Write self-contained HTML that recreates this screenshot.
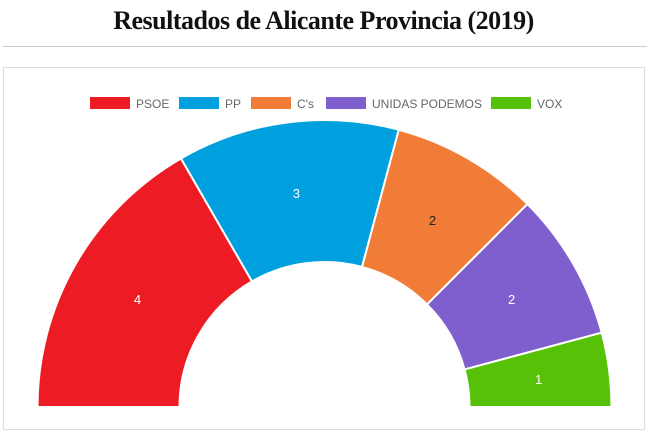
<!DOCTYPE html>
<html><head><meta charset="utf-8"><style>
body{margin:0;width:647px;height:430px;background:#fff;overflow:hidden;font-family:"Liberation Sans",Arial,sans-serif;position:relative}
#title{position:absolute;left:0;width:647px;top:6px;text-align:center;font-family:"Liberation Serif",serif;font-weight:bold;font-size:26px;color:#111;letter-spacing:-0.5px}
#rule{position:absolute;left:3px;right:0;top:46px;height:1px;background:#ccc}
#box{position:absolute;left:3px;top:67px;width:640px;height:361px;border:1px solid #ddd}
svg{position:absolute;left:0;top:0}
</style></head><body>
<div id="title">Resultados de Alicante Provincia (2019)</div>
<div id="rule"></div>
<div id="box"></div>
<svg id="chart" width="647" height="430"></svg>
<script>
const parties = ["PSOE","PP","C's","UNIDAS PODEMOS","VOX"];
const seats = [4,3,2,2,1];
const colors = ["#ed1c24","#00a0df","#f07c38","#7f5fce","#56c106"];
const legendX = [90,179,251,326,491];
const svg = document.getElementById('chart');
const NS = "http://www.w3.org/2000/svg";
const cx = 324.5, cy = 407, R = 287, r = 145;
const total = seats.reduce((a,b)=>a+b,0);
function angle(v){ return Math.PI - v/total*Math.PI; }
function pt(rad,a){ return [cx+rad*Math.cos(a), cy-rad*Math.sin(a)]; }
let cum = 0;
seats.forEach((s,i)=>{
  const a0 = angle(cum), a1 = angle(cum+s);
  const [x0,y0]=pt(R,a0),[x1,y1]=pt(R,a1),[x2,y2]=pt(r,a1),[x3,y3]=pt(r,a0);
  const p = document.createElementNS(NS,'path');
  p.setAttribute('d',`M${x0},${y0} A${R},${R} 0 0 1 ${x1},${y1} L${x2},${y2} A${r},${r} 0 0 0 ${x3},${y3} Z`);
  p.setAttribute('fill',colors[i]);
  p.setAttribute('stroke','#fff');
  p.setAttribute('stroke-width','2');
  
  
  svg.appendChild(p);
  const am = angle(cum + s/2);
  const [lx,ly] = pt((R+r)/2, am);
  const t = document.createElementNS(NS,'text');
  t.setAttribute('x',lx); t.setAttribute('y',ly+5);
  t.setAttribute('text-anchor','middle');
  t.setAttribute('font-size','13');
  t.setAttribute('fill', i===2 ? '#222' : '#fff');
  t.textContent = s;
  
  
  svg.appendChild(t);
  // legend
  const g = document.createElementNS(NS,'g');
  
  
  const rc = document.createElementNS(NS,'rect');
  rc.setAttribute('x',legendX[i]); rc.setAttribute('y',97);
  rc.setAttribute('width',40); rc.setAttribute('height',12);
  rc.setAttribute('fill',colors[i]);
  g.appendChild(rc);
  const lt = document.createElementNS(NS,'text');
  lt.setAttribute('x',legendX[i]+46); lt.setAttribute('y',108);
  lt.setAttribute('font-size','12'); lt.setAttribute('fill','#666');
  lt.textContent = parties[i];
  g.appendChild(lt);
  svg.appendChild(g);
  cum += s;
});
</script>
</body></html>
